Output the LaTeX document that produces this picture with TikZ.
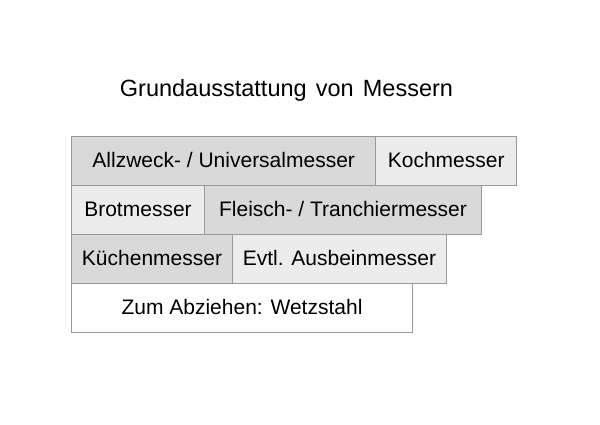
\documentclass[tikz,border=0pt]{standalone}
\usepackage{fontspec}
\setmainfont{Liberation Sans}
\usetikzlibrary{positioning}

\definecolor{boxdark}{gray}{0.85}
\definecolor{boxlight}{gray}{0.925}
\definecolor{boxline}{gray}{0.6}

\begin{document}
\begin{tikzpicture}[
    x=1pt, y=-1pt,
    node distance=0pt and 0pt,
    mybox/.style={draw=boxline, line width=1pt, minimum height=49pt, inner sep=0pt, outer sep=0pt, font=\fontsize{21}{25}\selectfont, text height=15pt, text depth=2pt},
    mydark/.style={fill=boxdark},
    mylight/.style={fill=boxlight},
    mywhite/.style={fill=white},
]

\useasboundingbox[fill=white] (0,0) rectangle (600,424);

% Title
\node[font=\fontsize{23.5}{28}\selectfont, anchor=base, inner sep=0pt] (title) at (286.5,96.5) {Grundausstattung\hspace{0.39em}von\hspace{0.39em}Messern};

% Nodes
\node[mybox, mydark, minimum width=304pt, anchor=north west] (allzweck) at (71.7,136.7) {Allzweck- / Universalmesser};
\node[mybox, mylight, minimum width=141pt, right=of allzweck] (koch) {Kochmesser};

\node[mybox, mylight, minimum width=132.6pt, below=of allzweck.south west, anchor=north west] (brot) {Brotmesser};
\node[mybox, mydark, minimum width=277.4pt, right=of brot] (fleisch) {Fleisch- / Tranchiermesser};

\node[mybox, mydark, minimum width=160.6pt, below=of brot.south west, anchor=north west] (kueche) {Küchenmesser};
\node[mybox, mylight, minimum width=214.4pt, right=of kueche] (ausbein) {Evtl. Ausbeinmesser};

\node[mybox, mywhite, minimum width=340.6pt, below=of kueche.south west, anchor=north west] (wetzstahl) {Zum Abziehen: Wetzstahl};

\end{tikzpicture}
\end{document}
